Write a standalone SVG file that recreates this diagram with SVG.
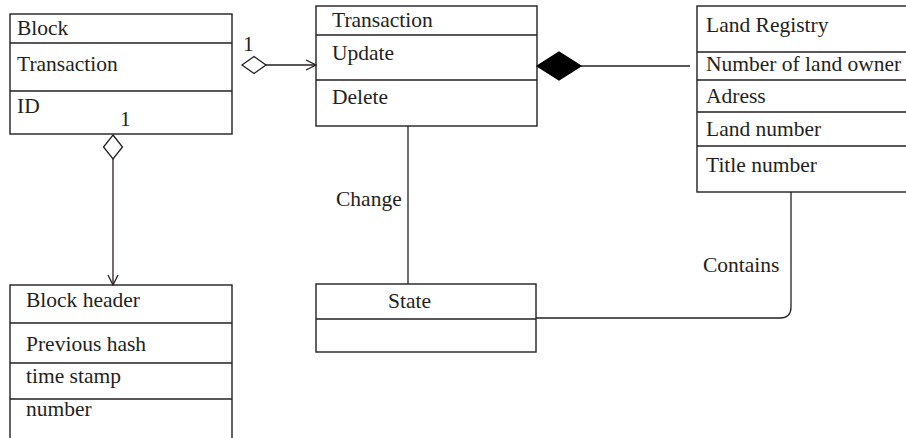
<svg xmlns="http://www.w3.org/2000/svg" width="906" height="438" viewBox="0 0 906 438">
<defs>
<style>
rect.box{fill:#fff;stroke:#231f20;stroke-width:1.4}
line.div{stroke:#231f20;stroke-width:1.4}
.conn path,.conn line{fill:none;stroke:#231f20;stroke-width:1.3}
text{font-family:"Liberation Serif","Times New Roman",serif;font-size:21.5px;fill:#231f20}
</style>
<marker id="openArrow" viewBox="0 0 12 12" refX="11" refY="6" markerWidth="12" markerHeight="12" markerUnits="userSpaceOnUse" orient="auto">
<path d="M1,1 L11,6 L1,11" fill="none" stroke="#231f20" stroke-width="1.3"/>
</marker>
</defs>
<rect width="906" height="438" fill="#fff"/>

<g id="block">
<rect class="box" x="10" y="14" width="222" height="120"/>
<line class="div" x1="10" y1="43" x2="232" y2="43"/>
<line class="div" x1="10" y1="91" x2="232" y2="91"/>
<text x="17" y="35">Block</text>
<text x="17" y="71">Transaction</text>
<text x="17" y="113">ID</text>
</g>

<g id="transaction">
<rect class="box" x="316" y="6" width="221" height="120"/>
<line class="div" x1="316" y1="35" x2="537" y2="35"/>
<line class="div" x1="316" y1="80" x2="537" y2="80"/>
<text x="332" y="27">Transaction</text>
<text x="332" y="60">Update</text>
<text x="332" y="104">Delete</text>
</g>

<g id="land-registry">
<rect class="box" x="697" y="6" width="215" height="186"/>
<line class="div" x1="697" y1="52" x2="912" y2="52"/>
<line class="div" x1="697" y1="80" x2="912" y2="80"/>
<line class="div" x1="697" y1="112" x2="912" y2="112"/>
<line class="div" x1="697" y1="146" x2="912" y2="146"/>
<text x="706" y="32">Land Registry</text>
<text x="706" y="71">Number of land owner</text>
<text x="706" y="103">Adress</text>
<text x="706" y="136">Land number</text>
<text x="706" y="172">Title number</text>
</g>

<g id="block-header">
<rect class="box" x="10" y="285" width="222" height="165"/>
<line class="div" x1="10" y1="323" x2="232" y2="323"/>
<line class="div" x1="10" y1="363" x2="232" y2="363"/>
<line class="div" x1="10" y1="399" x2="232" y2="399"/>
<text x="26" y="307">Block header</text>
<text x="26" y="351">Previous hash</text>
<text x="26" y="383">time stamp</text>
<text x="26" y="416">number</text>
</g>

<g id="state">
<rect class="box" x="316" y="284" width="220" height="68"/>
<line class="div" x1="316" y1="319" x2="536" y2="319"/>
<text x="388" y="308">State</text>
</g>

<g id="connectors" class="conn">
<path d="M242,65 L254,56.5 L266,65 L254,73.5 Z" fill="#fff"/>
<line x1="266" y1="65" x2="316" y2="65" marker-end="url(#openArrow)"/>
<text x="243" y="51">1</text>
<path d="M113,135 L122.5,147 L113,159 L103.5,147 Z" fill="#fff"/>
<line x1="113" y1="159" x2="113" y2="285" marker-end="url(#openArrow)"/>
<text x="120" y="126">1</text>
<path d="M537,66 L559,52 L581,66 L559,80 Z" style="fill:#000;stroke:#000"/>
<line x1="581" y1="66" x2="690" y2="66"/>
<line x1="408" y1="126" x2="408" y2="284"/>
<text x="336" y="206">Change</text>
<path d="M791,192 L791,307 Q791,318 780,318 L536,318"/>
<text x="703" y="272">Contains</text>
</g>
</svg>
